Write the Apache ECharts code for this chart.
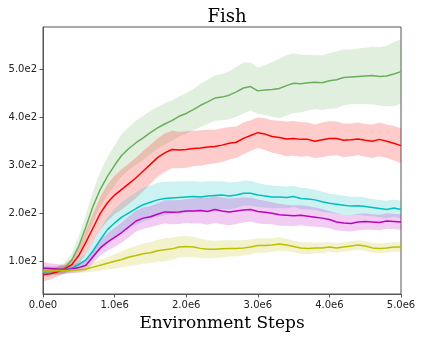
<!DOCTYPE html>
<html>
<head>
<meta charset="utf-8">
<script src="https://cdn.jsdelivr.net/npm/echarts@6/dist/echarts.min.js"></script>
<style>
  html, body { margin: 0; padding: 0; background: #fff; }
  #chart { width: 423px; height: 340px; }
</style>
</head>
<body>
<div id="chart"></div>
<script>
// environment steps, one sample every 1e5
const steps = []
for (let i = 0; i <= 50; i++) steps.push(i * 1e5)

const yTicks = [100, 200, 300, 400, 500]

// mean returns
const greenMean = [80, 80, 81, 86, 102, 132, 172, 215, 250, 277,
  300, 321, 335, 347, 357, 368, 378, 386, 393, 402,
  408, 416, 425, 432, 440, 442, 446, 453, 461, 464,
  455, 457, 458, 460, 466, 471, 470, 472, 473, 472,
  476, 478, 483, 484, 485, 486, 487, 485, 486, 490, 495]
const redMean = [72, 74, 78, 84, 93, 112, 140, 170, 200, 222,
  238, 250, 262, 274, 288, 302, 316, 326, 333, 332,
  333, 335, 336, 338, 339, 342, 346, 348, 356, 362,
  368, 365, 360, 358, 355, 356, 354, 354, 350, 353,
  356, 356, 352, 353, 355, 352, 350, 354, 350, 346, 341]
const cyanMean = [78, 79, 80, 82, 86, 93, 103, 122, 145, 166,
  180, 192, 201, 210, 218, 223, 228, 231, 232, 233,
  234, 235, 234, 236, 237, 238, 236, 238, 242, 242,
  238, 236, 234, 234, 233, 235, 231, 230, 228, 224,
  221, 219, 217, 215, 216, 214, 212, 210, 208, 211, 208]
const magentaMean = [86, 85, 84, 83, 84, 87, 92, 110, 128, 140,
  150, 160, 172, 184, 190, 193, 198, 203, 202, 203,
  205, 205, 206, 204, 208, 205, 203, 205, 207, 208,
  204, 202, 200, 197, 196, 195, 196, 194, 192, 190,
  187, 182, 180, 179, 182, 183, 182, 181, 184, 183, 182]
const yellowMean = [80, 80, 81, 81, 82, 82, 84, 88, 92, 96,
  100, 104, 109, 112, 116, 118, 122, 124, 126, 130,
  131, 130, 127, 125, 125, 126, 127, 127, 128, 130,
  133, 133, 134, 136, 134, 131, 128, 127, 128, 128,
  130, 128, 130, 132, 134, 132, 128, 127, 128, 130, 130]

// spread (half width of the shaded band)
const greenStd = [10, 10, 10, 11, 14, 20, 26, 32, 36, 40,
  42, 44, 45, 46, 46, 45, 44, 43, 42, 42,
  42, 43, 45, 46, 47, 48, 50, 52, 53, 50,
  48, 52, 57, 62, 63, 62, 60, 58, 56, 57,
  58, 59, 58, 57, 58, 59, 60, 61, 63, 67, 67]
const redStd = [14, 12, 10, 10, 12, 18, 24, 30, 34, 38,
  40, 42, 42, 42, 42, 41, 40, 40, 39, 38,
  38, 37, 37, 36, 35, 35, 34, 33, 33, 32,
  32, 33, 34, 35, 36, 36, 36, 35, 35, 36,
  36, 35, 35, 34, 34, 34, 35, 35, 35, 36, 36]
const cyanStd = [8, 8, 8, 8, 9, 11, 14, 18, 22, 26,
  29, 31, 33, 34, 35, 35, 35, 35, 34, 34,
  33, 32, 32, 31, 30, 29, 28, 27, 26, 26,
  25, 24, 24, 23, 23, 22, 22, 22, 21, 21,
  20, 20, 20, 19, 19, 19, 18, 18, 18, 18, 18]
const magentaStd = [12, 11, 10, 9, 9, 10, 12, 14, 16, 18,
  20, 21, 22, 22, 22, 22, 23, 24, 25, 25,
  25, 26, 27, 28, 28, 28, 28, 27, 26, 25,
  25, 24, 23, 23, 22, 22, 21, 21, 20, 19,
  18, 18, 17, 17, 17, 17, 16, 16, 16, 16, 16]
const yellowStd = [5, 5, 5, 5, 5, 6, 7, 9, 11, 13,
  15, 17, 19, 20, 21, 22, 23, 24, 23, 22,
  22, 21, 20, 19, 18, 18, 17, 17, 16, 16,
  15, 15, 14, 14, 13, 12, 12, 12, 11, 11,
  10, 10, 10, 10, 10, 10, 10, 10, 10, 10, 10]

const runs = [
  { name: 'green', color: '#6aaf5a', mean: greenMean, std: greenStd },
  { name: 'red', color: '#ff0000', mean: redMean, std: redStd },
  { name: 'cyan', color: '#00bfbf', mean: cyanMean, std: cyanStd },
  { name: 'magenta', color: '#bf00bf', mean: magentaMean, std: magentaStd },
  { name: 'yellow', color: '#bfbf00', mean: yellowMean, std: yellowStd }
]

const sci = v => Number(v).toExponential(1).replace('e+', 'e')

const series = []
runs.forEach(r => {
  // lower edge (invisible) + band height, stacked
  series.push({
    type: 'line', stack: 'band-' + r.name, symbol: 'none', silent: true,
    lineStyle: { opacity: 0 },
    data: r.mean.map((m, i) => m - r.std[i])
  })
  series.push({
    type: 'line', stack: 'band-' + r.name, symbol: 'none', silent: true,
    lineStyle: { opacity: 0 },
    areaStyle: { color: r.color, opacity: 0.2 },
    data: r.std.map(s => 2 * s)
  })
})
runs.forEach(r => {
  series.push({
    type: 'line', symbol: 'none', silent: true,
    lineStyle: { color: r.color, width: 1.5 },
    data: r.mean
  })
})

const chart = echarts.init(document.getElementById('chart'))
chart.setOption({
  animation: false,
  title: {
    text: 'Fish', left: 222, top: 3, textAlign: 'center',
    textStyle: { fontFamily: 'DejaVu Serif', fontSize: 18, fontWeight: 'normal', color: '#000' }
  },
  grid: {
    left: 43, right: 22, top: 27, bottom: 46,
    show: true, borderColor: '#555', borderWidth: 1
  },
  xAxis: {
    type: 'category', data: steps, boundaryGap: false,
    name: 'Environment Steps', nameLocation: 'middle', nameGap: 20,
    nameTextStyle: { fontFamily: 'DejaVu Serif', fontSize: 17, color: '#000' },
    axisLine: { lineStyle: { color: '#555' } },
    axisTick: { length: 3.5, interval: 9, lineStyle: { color: '#555' } },
    axisLabel: {
      interval: 9, formatter: sci, margin: 6, showMaxLabel: true,
      fontFamily: 'DejaVu Sans', fontSize: 10, color: '#222'
    },
    splitLine: { show: false }
  },
  yAxis: {
    type: 'value', min: 32, max: 588,
    axisLine: { show: true, lineStyle: { color: '#555' } },
    axisTick: { show: true, length: 3.5, lineStyle: { color: '#555' }, customValues: yTicks },
    axisLabel: {
      customValues: yTicks, formatter: sci, margin: 6,
      fontFamily: 'DejaVu Sans', fontSize: 10, color: '#222'
    },
    splitLine: { show: false }
  },
  series: series
})
</script>
</body>
</html>
